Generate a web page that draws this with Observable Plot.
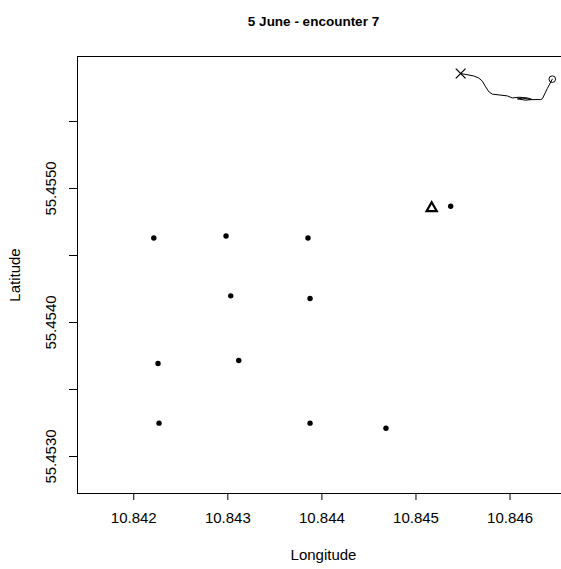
<!DOCTYPE html>
<html>
<head>
<meta charset="utf-8">
<script src="https://cdn.jsdelivr.net/npm/d3@7"></script>
<script src="https://cdn.jsdelivr.net/npm/@observablehq/plot@0.6"></script>
<style>
  html, body { margin: 0; padding: 0; background: white; overflow: hidden; }
  #chart svg { display: block; }
</style>
</head>
<body>
<div id="chart"></div>
<script>
// Receiver / station positions (longitude, latitude)
const stationLon = [10.842213, 10.842981, 10.843852, 10.843031, 10.843874, 10.842258, 10.843116, 10.842269, 10.843874, 10.844681, 10.845369];
const stationLat = [55.454631, 55.454646, 55.454631, 55.454199, 55.454179, 55.453694, 55.453716, 55.453249, 55.453249, 55.453211, 55.454868];

// Reference position (triangle)
const refLon = [10.845167];
const refLat = [55.454853];

// Track of encounter 7
const trackLon = [10.845475, 10.845613, 10.845666, 10.845706, 10.845741, 10.845776, 10.845812, 10.845971, 10.846024, 10.846095, 10.846184, 10.846237, 10.846166, 10.846078, 10.846134, 10.846240, 10.846325, 10.846343, 10.846396, 10.846449];
const trackLat = [55.455858, 55.455840, 55.455825, 55.455801, 55.455758, 55.455721, 55.455704, 55.455691, 55.455676, 55.455681, 55.455676, 55.455664, 55.455659, 55.455669, 55.455674, 55.455663, 55.455664, 55.455669, 55.455746, 55.455816];

// Axis ticks and labels
const xTicks = [10.842, 10.843, 10.844, 10.845, 10.846];
const yTicks = [55.4530, 55.4535, 55.4540, 55.4545, 55.4550, 55.4555];
const yLabels = [55.4530, 55.4540, 55.4550];
const xDomain = [10.841402, 10.846632];
const yDomain = [55.452724, 55.455985];

const title = "5 June - encounter 7";
const xTitle = "Longitude";
const yTitle = "Latitude";

const stations = stationLon.map((lon, i) => ({lon, lat: stationLat[i]}));
const refs = refLon.map((lon, i) => ({lon, lat: refLat[i]}));
const track = trackLon.map((lon, i) => ({lon, lat: trackLat[i]}));
const trackStart = [track[0]];
const trackEnd = [track[track.length - 1]];

const chart = Plot.plot({
  width: 561,
  height: 569,
  marginLeft: 77,
  marginRight: -8,
  marginTop: 56,
  marginBottom: 76,
  style: {fontFamily: "'Liberation Sans', Arial, sans-serif", fontSize: "15px", background: "white", color: "black"},
  x: {domain: xDomain, axis: null},
  y: {domain: yDomain, axis: null},
  marks: [
    Plot.frame({stroke: "black", strokeWidth: 1}),
    Plot.axisX(xTicks, {tickSize: 7, tickFormat: () => "", stroke: "black", label: null}),
    Plot.axisY(yTicks, {tickSize: 8, tickFormat: () => "", stroke: "black", label: null}),
    Plot.text(xTicks, {x: d => d, frameAnchor: "bottom", dy: 29.5, text: d => d.toFixed(3), fontSize: 15, fill: "black"}),
    Plot.text(yLabels, {y: d => d, frameAnchor: "left", textAnchor: "middle", dx: -26, rotate: -90, text: d => d.toFixed(4), fontSize: 15, fill: "black"}),
    Plot.text([xTitle], {frameAnchor: "bottom", dy: 66, text: d => d, fontSize: 15, fill: "black"}),
    Plot.text([yTitle], {frameAnchor: "left", textAnchor: "middle", dx: -62, rotate: -90, text: d => d, fontSize: 15, fill: "black"}),
    Plot.text([title], {frameAnchor: "top", dx: -10, dy: -40, text: d => d, fontSize: 13.5, fontWeight: "bold", fill: "black"}),
    Plot.line(track, {x: "lon", y: "lat", stroke: "black", strokeWidth: 1}),
    Plot.dot(trackStart, {x: "lon", y: "lat", symbol: "times", r: 4.5, stroke: "black", strokeWidth: 1.3}),
    Plot.dot(trackEnd, {x: "lon", y: "lat", symbol: "circle", r: 3.3, stroke: "black", fill: "none", strokeWidth: 1}),
    Plot.dot(stations, {x: "lon", y: "lat", r: 2.7, fill: "black", stroke: "none"}),
    Plot.dot(refs, {x: "lon", y: "lat", symbol: "triangle", r: 3.8, stroke: "black", fill: "none", strokeWidth: 2.2})
  ]
});
document.getElementById("chart").append(chart);
</script>
</body>
</html>
